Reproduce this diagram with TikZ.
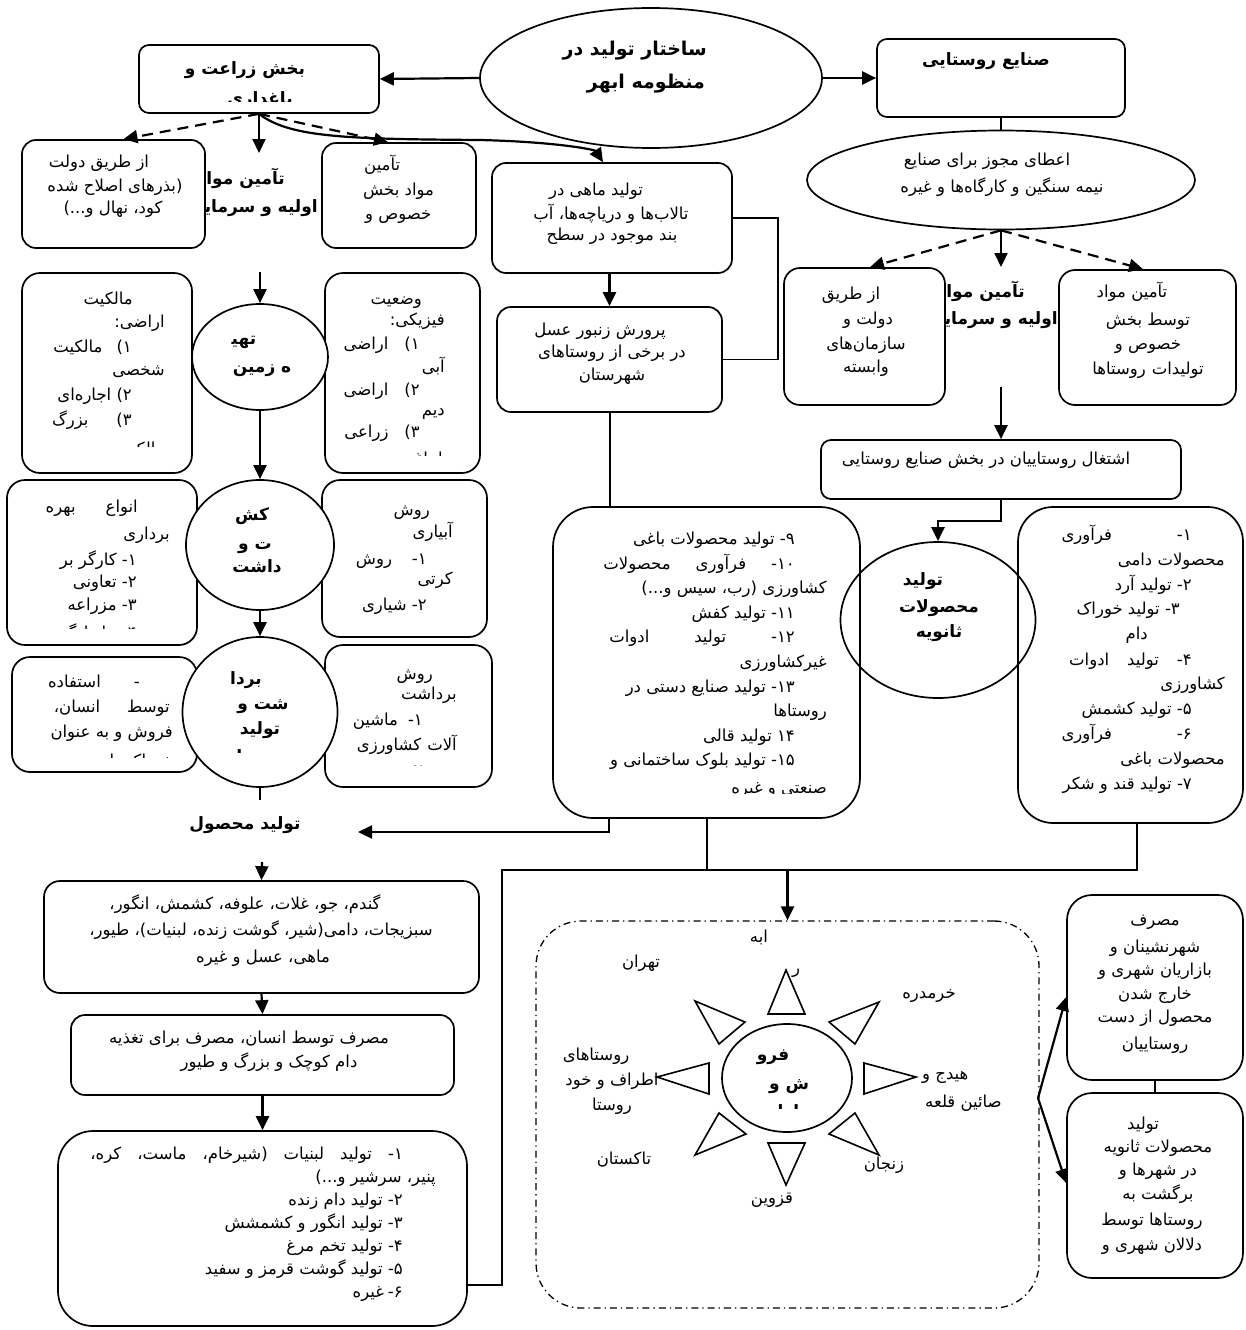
\documentclass[tikz,border=0pt]{standalone}
\usepackage{fontspec}
\usetikzlibrary{arrows.meta,shapes.geometric}
\TeXXeTstate=1
\newfontfamily\fafont[Script=Arabic]{DejaVu Sans}
\newcommand\fnorm{\fafont\fontsize{16.5}{19}\selectfont}
\newcommand\fbold{\fafont\bfseries\fontsize{17}{20}\selectfont}
\newcommand\fhead{\fafont\bfseries\fontsize{19}{22}\selectfont}
\newcounter{tl}
\newcommand\ptx[4][mid]{\stepcounter{tl}\node[tn,anchor=#1] (t\arabic{tl}) at (#2,#3) {#4};}
\newcommand\pbx[4][mid]{\stepcounter{tl}\node[tbd,anchor=#1] (t\arabic{tl}) at (#2,#3) {#4};}
\newcommand\phx[4][mid]{\stepcounter{tl}\node[thd,anchor=#1] (t\arabic{tl}) at (#2,#3) {#4};}
\newcommand\rb[7][]{\node[box,rounded corners=#2,#1,minimum width={#5-#3},minimum height={#6-#4}] (#7) at ({(#3+#5)/2},{(#4+#6)/2}) {};}
\begin{document}
\begin{tikzpicture}[x=1pt,y=-1pt,
  box/.style={draw,line width=1.7pt,fill=white,inner sep=0pt},
  ell/.style={draw,ellipse,line width=1.7pt,inner sep=0pt},
  tn/.style={inner sep=0pt,font=\fnorm},
  tbd/.style={inner sep=0pt,font=\fbold},
  thd/.style={inner sep=0pt,font=\fhead},
  ln/.style={line width=2pt},
  arr/.style={line width=2.2pt,-{Triangle[length=14pt,width=13pt]}},
  dsh/.style={arr,dash pattern=on 11pt off 7pt},
  tri/.style={line width=1.6pt},
]
\useasboundingbox (0,0) rectangle (1245,1330);
\fill[white] (0,0) rectangle (1245,1330);

% labels behind boxes
\pbx[mid east]{285}{182}{\beginR تآمین مواد\endR}
\pbx[mid east]{318}{210}{\beginR اولیه و سرمایه\endR}
\pbx[mid east]{1025}{295}{\beginR تآمین مواد\endR}
\pbx[mid east]{1058}{322}{\beginR اولیه و سرمایه\endR}

% top
\node[ell,fill=white,minimum width=342,minimum height=140] (E0) at (651,78) {};
\rb{10pt}{139}{45}{379}{113}{bz}
\rb{10pt}{877}{39}{1125}{117}{sn}
\node[ell,fill=white,minimum width=388,minimum height=99] (ej) at (1001,180) {};

% left
\rb{14pt}{22}{140}{205}{248}{gov}
\rb{14pt}{322}{143}{476}{248}{kh}
\rb{18pt}{22}{273}{192}{473}{own}
\rb{18pt}{325}{273}{480}{473}{phy}
\rb{18pt}{7}{480}{197}{645}{typ}
\rb{18pt}{322}{480}{487}{637}{irr}
\rb{18pt}{12}{657}{197}{772}{use}
\rb{18pt}{325}{645}{492}{787}{hm}
\node[ell,fill=white,minimum width=136,minimum height=106] (tahie) at (260,357) {};
\node[ell,fill=white,minimum width=148,minimum height=130] (kesht) at (260,545) {};
\node[ell,fill=white,minimum width=155,minimum height=150] (bard) at (260,712) {};
\rb{16pt}{44}{881}{479}{993}{gandom}
\rb{14pt}{71}{1015}{454}{1095}{masraf}
\rb{35pt}{58}{1131}{467}{1326}{lab}

% middle
\rb{14pt}{492}{163}{732}{273}{fish}
\rb{14pt}{497}{307}{722}{412}{honey}
\rb{40pt}{553}{507}{860}{818}{mid}

% right
\rb{16pt}{784}{268}{945}{405}{govR}
\rb{16pt}{1059}{270}{1236}{405}{privR}
\rb{10pt}{821}{440}{1181}{499}{esh}
\rb{35pt}{1018}{507}{1243}{823}{rbx}
\node[ell,minimum width=195,minimum height=156] (sec) at (938,620) {};
\rb{25pt}{1067}{895}{1243}{1080}{rb1}
\rb{25pt}{1067}{1093}{1243}{1278}{rb2}

% sun
\node[draw,line width=1.3pt,dash pattern=on 7pt off 4pt on 1.3pt off 4pt,rounded corners=45pt,minimum width=503,minimum height=387,inner sep=0pt] (sun) at (787.5,1114.5) {};
\node[ell,minimum width=130,minimum height=108] (sunc) at (787,1078) {};
\draw[tri] (786,970) -- (768,1014) -- (805,1014) -- cycle;
\draw[tri] (786,1185) -- (768,1143) -- (805,1143) -- cycle;
\draw[tri] (916,1077) -- (864,1063) -- (864,1094) -- cycle;
\draw[tri] (657,1077) -- (709,1063) -- (709,1094) -- cycle;
\draw[tri] (695,1001) -- (719,1044) -- (745,1022) -- cycle;
\draw[tri] (879,1002) -- (855,1044) -- (829,1022) -- cycle;
\draw[tri] (695,1155) -- (719,1113) -- (746,1134) -- cycle;
\draw[tri] (879,1155) -- (855,1113) -- (829,1134) -- cycle;

% ---------- texts
\phx[mid east]{707}{53}{\beginR ساختار تولید در\endR}
\phx[mid east]{705}{86}{\beginR منظومه ابهر\endR}
\begin{scope}
\clip (139,45) rectangle (379,101);
\pbx{245}{72}{\beginR بخش زراعت و\endR}
\pbx{260}{102}{\beginR باغداری\endR}
\end{scope}
\pbx{986}{63}{\beginR صنایع روستایی\endR}
\ptx{987}{163}{\beginR اعطای مجوز برای صنایع\endR}
\ptx{1002}{190}{\beginR نیمه سنگین و کارگاه^^^^200cها و غیره\endR}

\ptx{99}{165}{\beginR از طریق دولت\endR}
\ptx{115}{189}{\beginR (بذرهای اصلاح شده\endR}
\ptx{113}{211}{\beginR کود، نهال و...)\endR}
\ptx[mid west]{364}{168}{\beginR تآمین\endR}
\ptx[mid west]{363}{193}{\beginR مواد بخش\endR}
\ptx[mid west]{365}{217}{\beginR خصوص و\endR}

\ptx{596}{193}{\beginR تولید ماهی در\endR}
\ptx{611}{217}{\beginR تالاب^^^^200cها و دریاچه^^^^200cها، آب\endR}
\ptx{612}{238}{\beginR بند موجود در سطح\endR}
\ptx{600}{333}{\beginR پرورش زنبور عسل\endR}
\ptx{612}{355}{\beginR در برخی از روستاهای\endR}
\ptx{612}{378}{\beginR شهرستان\endR}

\begin{scope}
\clip (22,273) rectangle (192,446);
\ptx[mid east]{133}{302}{\beginR مالکیت\endR}
\ptx[mid east]{165}{325}{\beginR اراضی:\endR}
\ptx[mid east]{132}{350}{\beginR ۱)\hspace{14pt}مالکیت\endR}
\ptx[mid east]{165}{373}{\beginR شخصی\endR}
\ptx[mid east]{132}{398}{\beginR ۲) اجاره^^^^200cای\endR}
\ptx[mid east]{132}{423}{\beginR ۳)\hspace{28pt}بزرگ\endR}
\ptx[mid east]{165}{452}{\beginR مالکی\endR}
\end{scope}
\begin{scope}
\clip (325,273) rectangle (480,455);
\ptx[mid east]{422}{302}{\beginR وضعیت\endR}
\ptx[mid east]{445}{323}{\beginR فیزیکی:\endR}
\ptx[mid east]{420}{347}{\beginR ۱)\hspace{16pt}اراضی\endR}
\ptx[mid east]{445}{370}{\beginR آبی\endR}
\ptx[mid east]{420}{393}{\beginR ۲)\hspace{16pt}اراضی\endR}
\ptx[mid east]{445}{413}{\beginR دیم\endR}
\ptx[mid east]{420}{435}{\beginR ۳)\hspace{16pt}زراعی\endR}
\ptx[mid east]{448}{462}{\beginR یا باغی\endR}
\end{scope}
\begin{scope}
\clip (7,480) rectangle (197,628);
\ptx[mid east]{138}{510}{\beginR انواع\hspace{30pt}بهره\endR}
\ptx[mid east]{170}{537}{\beginR برداری\endR}
\ptx[mid east]{137}{563}{\beginR ۱- کارگر بر\endR}
\ptx[mid east]{137}{585}{\beginR ۲- تعاونی\endR}
\ptx[mid east]{137}{608}{\beginR ۳- مزراعه\endR}
\ptx[mid east]{137}{636}{\beginR ۴- خانوادگی\endR}
\end{scope}
\ptx[mid east]{430}{513}{\beginR روش\endR}
\ptx[mid east]{453}{535}{\beginR آبیاری\endR}
\ptx[mid east]{427}{562}{\beginR ۱-\hspace{20pt}روش\endR}
\ptx[mid east]{453}{582}{\beginR کرتی\endR}
\ptx[mid east]{427}{608}{\beginR ۲- شیاری\endR}
\begin{scope}
\clip (12,657) rectangle (197,757);
\ptx[mid east]{140}{685}{\beginR -\hspace{33pt}استفاده\endR}
\ptx[mid east]{170}{710}{\beginR توسط\hspace{27pt}انسان،\endR}
\ptx[mid east]{173}{735}{\beginR فروش و به عنوان\endR}
\ptx[mid east]{173}{764}{\beginR خوراک دام\endR}
\end{scope}
\begin{scope}
\clip (325,645) rectangle (492,765);
\ptx[mid east]{433}{677}{\beginR روش\endR}
\ptx[mid east]{457}{697}{\beginR برداشت\endR}
\ptx[mid east]{423}{723}{\beginR ۱-\hspace{10pt}ماشین\endR}
\ptx[mid east]{457}{748}{\beginR آلات\hspace{6pt}کشاورزی\endR}
\ptx[mid east]{423}{774}{\beginR ۲- دستی\endR}
\end{scope}

\pbx{244}{342}{\beginR تهی^^^^200d\endR}
\pbx{262}{370}{\beginR ه زمین\endR}
\pbx{252}{518}{\beginR کش\endR}
\pbx{255}{547}{\beginR ت و\endR}
\pbx{257}{570}{\beginR داشت\endR}
\begin{scope}
\clip (182,637) rectangle (337,752);
\pbx{246}{682}{\beginR بردا\endR}
\pbx{263}{707}{\beginR شت و\endR}
\pbx{260}{732}{\beginR تولید\endR}
\pbx{260}{760}{\beginR محصول\endR}
\end{scope}
\pbx{245}{827}{\beginR تولید محصول\endR}

\begin{scope}
\clip (553,507) rectangle (860,793);
\ptx[mid east]{795}{542}{\beginR ۹- تولید محصولات باغی\endR}
\ptx[mid east]{795}{567}{\beginR ۱۰-\hspace{25pt}فرآوری\hspace{25pt}محصولات\endR}
\ptx[mid east]{827}{591}{\beginR کشاورزی (رب، سیس و...)\endR}
\ptx[mid east]{795}{616}{\beginR ۱۱- تولید کفش\endR}
\ptx[mid east]{795}{640}{\beginR ۱۲-\hspace{45pt}تولید\hspace{45pt}ادوات\endR}
\ptx[mid east]{827}{665}{\beginR غیرکشاورزی\endR}
\ptx[mid east]{795}{690}{\beginR ۱۳- تولید صنایع دستی در\endR}
\ptx[mid east]{827}{714}{\beginR روستاها\endR}
\ptx[mid east]{795}{739}{\beginR ۱۴ تولید قالی\endR}
\ptx[mid east]{795}{763}{\beginR ۱۵- تولید بلوک ساختمانی و\endR}
\ptx[mid east]{827}{791}{\beginR صنعتی و غیره\endR}
\end{scope}

\ptx[mid east]{1192}{538}{\beginR ۱-\hspace{65pt}فرآوری\endR}
\ptx[mid east]{1225}{563}{\beginR محصولات دامی\endR}
\ptx[mid east]{1192}{588}{\beginR ۲- تولید آرد\endR}
\ptx[mid east]{1180}{612}{\beginR ۳- تولید خوراک\endR}
\ptx[mid east]{1148}{637}{\beginR دام\endR}
\ptx[mid east]{1192}{663}{\beginR ۴-\hspace{18pt}تولید\hspace{18pt}ادوات\endR}
\ptx[mid east]{1225}{687}{\beginR کشاورزی\endR}
\ptx[mid east]{1192}{712}{\beginR ۵- تولید کشمش\endR}
\ptx[mid east]{1192}{737}{\beginR ۶-\hspace{65pt}فرآوری\endR}
\ptx[mid east]{1225}{762}{\beginR محصولات باغی\endR}
\ptx[mid east]{1192}{787}{\beginR ۷- تولید قند و شکر\endR}

\pbx{923}{583}{\beginR تولید\endR}
\pbx{939}{610}{\beginR محصولات\endR}
\pbx{939}{635}{\beginR ثانویه\endR}
\ptx{986}{462}{\beginR اشتغال روستاییان در بخش صنایع روستایی\endR}
\ptx{851}{297}{\beginR از طریق\endR}
\ptx{868}{322}{\beginR دولت و\endR}
\ptx{866}{347}{\beginR سازمان^^^^200cهای\endR}
\ptx{866}{370}{\beginR وابسته\endR}
\ptx{1132}{295}{\beginR تآمین مواد\endR}
\ptx{1148}{323}{\beginR توسط بخش\endR}
\ptx{1148}{347}{\beginR خصوص و\endR}
\ptx{1148}{372}{\beginR تولیدات\hspace{6pt}روستاها\endR}

\ptx{245}{907}{\beginR گندم، جو، غلات، علوفه، کشمش، انگور،\endR}
\ptx{261}{933}{\beginR سبزیجات، دامی(شیر، گوشت زنده، لبنیات)، طیور،\endR}
\ptx{263}{960}{\beginR ماهی، عسل و غیره\endR}
\ptx{249}{1041}{\beginR مصرف توسط انسان، مصرف برای تغذیه\endR}
\ptx{269}{1065}{\beginR دام کوچک و بزرگ و طیور\endR}
\ptx[mid east]{403}{1157}{\beginR ۱-\hspace{16pt}تولید\hspace{16pt}لبنیات\hspace{16pt}(شیرخام،\hspace{16pt}ماست،\hspace{16pt}کره،\endR}
\ptx[mid east]{436}{1180}{\beginR پنیر، سرشیر و...)\endR}
\ptx[mid east]{403}{1203}{\beginR ۲- تولید دام زنده\endR}
\ptx[mid east]{403}{1226}{\beginR ۳- تولید انگور و کشمشش\endR}
\ptx[mid east]{403}{1249}{\beginR ۴- تولید تخم مرغ\endR}
\ptx[mid east]{403}{1272}{\beginR ۵- تولید گوشت قرمز و سفید\endR}
\ptx[mid east]{403}{1295}{\beginR ۶-\hspace{4pt}غیره\endR}

\ptx{759}{940}{\beginR ابه\endR}
\ptx{796}{971}{\beginR ر\endR}
\ptx{641}{965}{\beginR تهران\endR}
\ptx{929}{996}{\beginR خرمدره\endR}
\ptx{596}{1058}{\beginR روستاهای\endR}
\ptx{612}{1083}{\beginR اطراف و خود\endR}
\ptx{612}{1108}{\beginR روستا\endR}
\ptx[mid west]{922}{1077}{\beginR هیدج و\endR}
\ptx[mid west]{925}{1105}{\beginR صائین قلعه\endR}
\ptx{624}{1162}{\beginR تاکستان\endR}
\ptx{884}{1167}{\beginR زنجان\endR}
\ptx{772}{1201}{\beginR قزوین\endR}
\begin{scope}
\clip (722,1024) rectangle (852,1108);
\pbx{773}{1058}{\beginR فرو\endR}
\pbx{789}{1087}{\beginR ش و\endR}
\pbx{787}{1115}{\beginR بازار\endR}
\end{scope}

\ptx{1155}{923}{\beginR مصرف\endR}
\ptx{1155}{950}{\beginR شهرنشینان و\endR}
\ptx{1155}{973}{\beginR بازاریان شهری و\endR}
\ptx{1155}{997}{\beginR خارج شدن\endR}
\ptx{1155}{1020}{\beginR محصول از دست\endR}
\ptx{1155}{1047}{\beginR روستاییان\endR}
\ptx{1143}{1127}{\beginR تولید\endR}
\ptx{1158}{1150}{\beginR محصولات ثانویه\endR}
\ptx{1158}{1173}{\beginR در شهرها و\endR}
\ptx{1158}{1197}{\beginR برگشت به\endR}
\ptx{1152}{1223}{\beginR روستاها توسط\endR}
\ptx{1152}{1248}{\beginR دلالان شهری و\endR}

% ---------- connectors
\draw[arr] (E0.west) -- (bz.east);
\draw[arr] (E0.east) -- (sn.west);
\draw[dsh] (bz.south) -- ([xshift=10pt]gov.north);
\draw[dsh] (bz.south) -- ([xshift=-11pt]kh.north);
\coordinate (c1) at (259,153);
\draw[arr] (bz.south) -- (c1);
\draw[arr] (bz.south) .. controls (290,138) and (350,139) .. (480,140) .. controls (560,142) and (595,150) .. ([xshift=-9pt]fish.north);
\coordinate (c2) at (260,272);
\draw[arr] (c2) -- (tahie.north);
\draw[arr] (tahie.south) -- (kesht.north);
\draw[arr] (kesht.south) -- (bard.north);
\coordinate (c3) at (260,800);
\draw[ln] (bard.south) -- (c3);
\coordinate (c4) at (262,862);
\draw[arr] (c4) -- (gandom.north);
\draw[arr] (gandom.south) -- (masraf.north);
\draw[arr] (masraf.south) -- (lab.north);
\coordinate (lc) at (467,1285);
\coordinate (bl) at (502,870);
\coordinate (br) at (1137,870);
\draw[ln] (lc) -| (bl) -- (br) -- ([xshift=6.5pt]rbx.south);
\draw[ln] (mid.south) -- (mid.south |- bl);
\draw[arr] (sun.north |- bl) -- (sun.north);
\coordinate (m1) at (609,818);
\coordinate (c6) at (358,832);
\draw[arr] (m1) |- (c6);
\draw[arr] (honey.north |- fish.south) -- (honey.north);
\coordinate (fh) at (778,359.5);
\draw[line width=1.5pt] (fish.east) -| (fh) -- (honey.east);
\draw[ln] (honey.south) -- (honey.south |- mid.north);
\draw[ln] (sn.south) -- (ej.north);
\draw[dsh] (ej.south) -- ([xshift=5.5pt]govR.north);
\draw[dsh] (ej.south) -- ([xshift=-4.5pt]privR.north);
\coordinate (c7) at (1001,267);
\draw[arr] (ej.south) -- (c7);
\coordinate (c8) at (1001,387);
\draw[arr] (c8) -- (esh.north);
\draw[arr] (esh.south) -- ++(0,21) -| (sec.north);
\coordinate (sx) at (1038,1098);
\draw[arr] (sx) -- ([yshift=-9.5pt]rb1.west);
\draw[arr] (sx) -- ([yshift=2.5pt]rb2.west);
\draw[ln] (rb1.south) -- (rb2.north);
\end{tikzpicture}
\end{document}
